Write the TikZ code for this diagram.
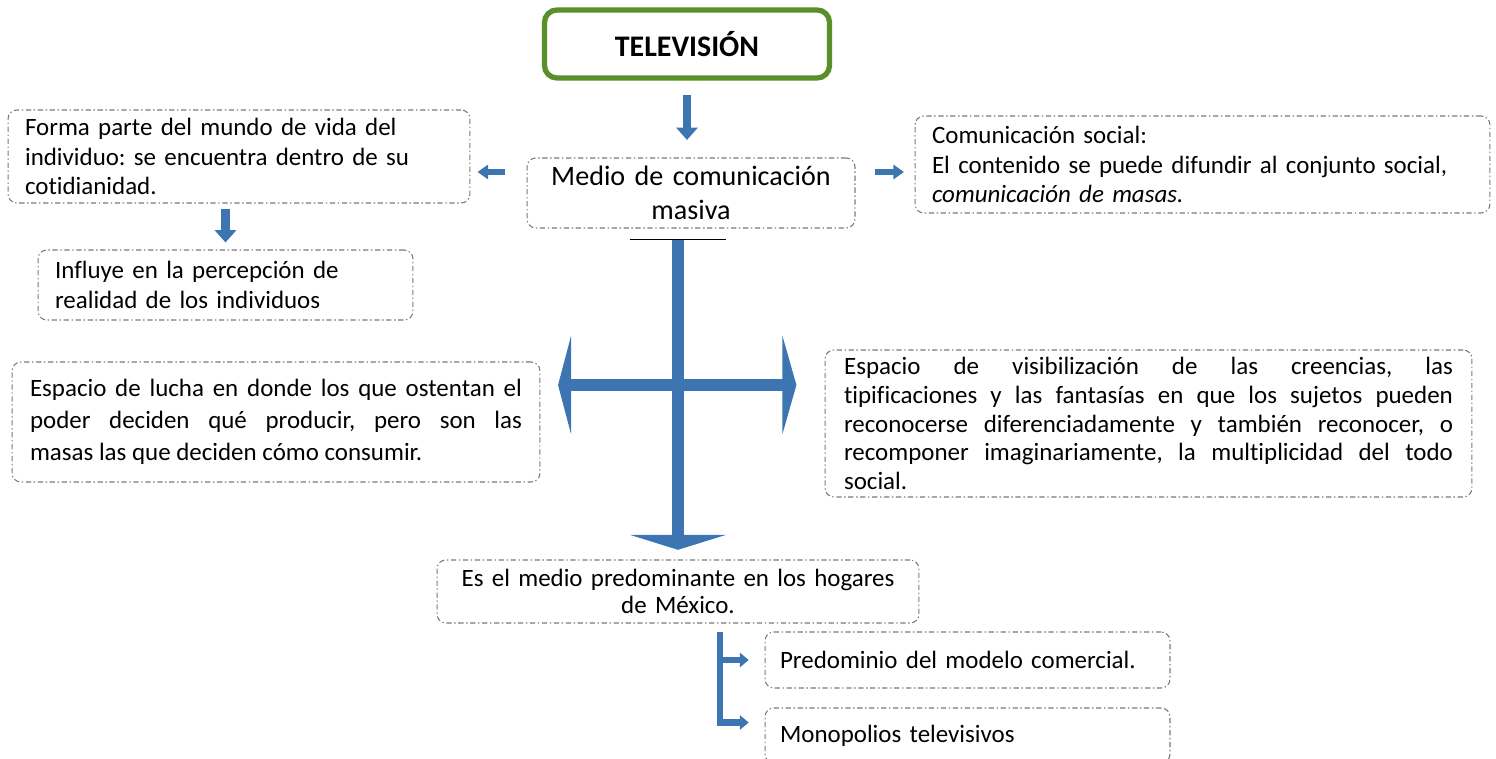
\documentclass[tikz,border=0pt]{standalone}
\usepackage{fontspec}
\setmainfont{Carlito}[Ligatures=NoCommon]
\usepackage{xcolor}
\usetikzlibrary{arrows.meta}
\definecolor{tvgreen}{HTML}{5B8F29}
\definecolor{flecha}{HTML}{3D74B2}
\definecolor{borde}{HTML}{7A7A7A}
\frenchspacing

\begin{document}
\begin{tikzpicture}[x=0.02cm,y=-0.02cm,
  caja/.style={draw=borde, line width=0.6pt, dash pattern=on 3pt off 1.5pt on 0.8pt off 1.5pt, rounded corners=5pt, inner ysep=0pt, inner xsep=0.34cm, align=left, font=\fontsize{14.2}{16.6}\selectfont},
  titulo/.style={draw=tvgreen, line width=3pt, rounded corners=7pt, minimum width=5.7cm, minimum height=1.36cm, font=\fontsize{17}{20}\selectfont\bfseries},
  flechita/.style={draw=flecha, line width=5pt, -{Triangle[width=12pt,length=7pt]}},
  lateral/.style={draw=flecha, line width=3.5pt, -{Triangle[width=8pt,length=6pt]}},
  cruz/.style={draw=flecha, line width=7pt},
  rama/.style={draw=flecha, line width=3.5pt, -{Triangle[width=8pt,length=5pt]}}]
\useasboundingbox (0,0) rectangle (1496,759);

\node[titulo] (tv) at (687,44) {TELEVISIÓN};
\node[caja, align=center, text width=6cm, inner xsep=0.28cm, minimum height=1.4cm, font=\fontsize{16}{19}\selectfont] (medio) at (691,193) {Medio de comunicación\\masiva};
\node[caja, text width=8.56cm, minimum height=1.86cm] (forma) at (239,156.5) {Forma parte del mundo de vida del\\individuo: se encuentra dentro de su\\cotidianidad.};
\node[caja, text width=6.82cm, minimum height=1.4cm] (influye) at (225.5,285) {Influye en la percepción de\\realidad de los individuos};
\node[caja, text width=10.82cm, minimum height=1.94cm, font=\fontsize{14.2}{16.8}\selectfont] (social) at (1202.5,164.5) {Comunicación social:\\El contenido se puede difundir al conjunto social,\\\textit{comunicación de masas.}};
\node[caja, align=justify, text width=9.84cm, inner xsep=0.36cm, minimum height=2.4cm, font=\fontsize{14.2}{18.1}\selectfont] (lucha) at (276,422) {Espacio de lucha en donde los que ostentan el\linebreak poder deciden qué producir, pero son las\linebreak masas las que deciden cómo consumir.};
\node[caja, align=justify, text width=12.18cm, inner xsep=0.38cm, minimum height=2.94cm, font=\fontsize{14.2}{16.3}\selectfont] (visib) at (1148.5,423.5) {Espacio de visibilización de las creencias, las\linebreak tipificaciones y las fantasías en que los sujetos pueden\linebreak reconocerse diferenciadamente y también reconocer, o\linebreak recomponer imaginariamente, la multiplicidad del todo\linebreak social.};
\node[caja, align=center, text width=9cm, inner xsep=0.32cm, minimum height=1.26cm, font=\fontsize{14.2}{15.4}\selectfont] (pred) at (678,591.5) {Es el medio predominante en los hogares\\de México.};
\node[caja, text width=7.5cm, inner xsep=0.3cm, minimum height=1.12cm] (modelo) at (967.5,660) {Predominio del modelo comercial.};
\node[caja, text width=7.5cm, inner xsep=0.3cm, minimum height=1.1cm] (mono) at (967.5,735.5) {Monopolios televisivos};

\coordinate (hub) at (678,385);
\coordinate (fork) at (720,632);

\draw[flechita, shorten <=8pt, shorten >=10pt] (tv.south) -- (tv.south |- medio.north);
\draw[lateral, shorten <=12pt, shorten >=4pt] ([yshift=0.42cm]medio.west) -- ([yshift=0.42cm]medio.west -| forma.east);
\draw[lateral, shorten <=11pt, shorten >=6pt] ([yshift=0.42cm]medio.east) -- ([yshift=0.42cm]medio.east -| social.west);
\draw[flechita, shorten <=3pt, shorten >=4pt] (forma.south -| influye.north) -- (influye.north);

\draw[cruz, {Bar[width=1.92cm,line width=0.6pt,color=black]}-{Triangle[width=1.92cm,length=0.3cm]}, shorten <=6pt, shorten >=5.5pt] (medio.south -| pred.north) -- (pred.north);
\draw[cruz, {Triangle[width=1.96cm,length=0.26cm]}-{Triangle[width=1.96cm,length=0.28cm]}, shorten <=10pt, shorten >=16pt] (lucha.east |- hub) -- (visib.west |- hub);

\draw[rama, shorten >=9pt] (fork) |- (modelo.west);
\draw[rama, shorten >=9pt] (fork) |- ([yshift=0.26cm]mono.west);
\end{tikzpicture}
\end{document}
